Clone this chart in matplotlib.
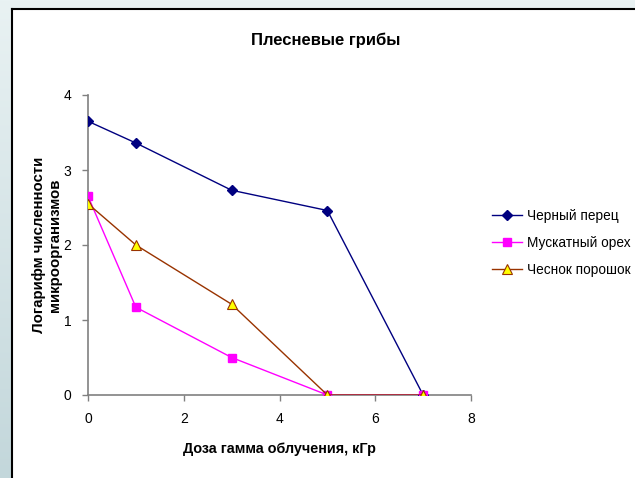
import numpy as np
import matplotlib
matplotlib.use('Agg')
import matplotlib.pyplot as plt
from matplotlib.patches import Rectangle

plt.rcParams['font.family'] = ['Liberation Sans', 'DejaVu Sans']

# Доза облучения, кГр
dose = [0, 1, 3, 5, 7]

# Логарифм численности микроорганизмов
black_pepper = [3.65, 3.36, 2.73, 2.46, 0.0]
nutmeg = [2.65, 1.17, 0.50, 0.0, 0.0]
garlic = [2.55, 2.00, 1.21, 0.0, 0.0]

series_names = ['Черный перец', 'Мускатный орех', 'Чеснок порошок']
x_ticks = [0, 2, 4, 6, 8]
y_ticks = [0, 1, 2, 3, 4]

W, H = 635, 478
fig = plt.figure(figsize=(W / 100, H / 100), dpi=100)

# slide-like background: bluish gradient behind a white framed panel
bg = fig.add_axes([0, 0, 1, 1])
grad = np.linspace(0, 1, 256).reshape(-1, 1)
bg_cmap = matplotlib.colors.LinearSegmentedColormap.from_list(
    'bg', ['#e9f2f3', '#c3d7db'])
bg.imshow(grad, aspect='auto', cmap=bg_cmap, extent=[0, 1, 0, 1], origin='upper')
bg.add_patch(Rectangle((12 / W, 0), 1 - 12 / W, 1 - 9 / H,
                       facecolor='white', edgecolor='none'))
bg.plot([12 / W, 12 / W], [0, 1 - 9 / H], color='black', lw=1.5)
bg.plot([12 / W, 1], [1 - 9 / H, 1 - 9 / H], color='black', lw=1.5)
bg.set_xlim(0, 1)
bg.set_ylim(0, 1)
bg.axis('off')

ax = fig.add_axes([88 / W, 1 - 395 / H, (471 - 88) / W, (395 - 95) / H])
ax.patch.set_alpha(0)

ax.plot(dose, black_pepper, color='#000080', lw=1, marker='D', ms=5.5,
        mfc='#000080', mec='#000080', label=series_names[0], zorder=3)
ax.plot(dose, nutmeg, color='#ff00ff', lw=1, marker='s', ms=6,
        mfc='#ff00ff', mec='#ff00ff', label=series_names[1], zorder=4)
ax.plot(dose, garlic, color='#993300', lw=1, marker='^', ms=6.5,
        mfc='#ffff00', mec='#993300', mew=0.8, label=series_names[2], zorder=5)

ax.set_xlim(0, 8)
ax.set_ylim(0, 4)
ax.set_xticks(x_ticks)
ax.set_yticks(y_ticks)
for s in ['top', 'right']:
    ax.spines[s].set_visible(False)
for s in ['left', 'bottom']:
    ax.spines[s].set_color('#808080')
    ax.spines[s].set_linewidth(1.2)
ax.tick_params(direction='out', length=4, width=1, color='#808080',
               labelsize=10, pad=8)

ax.set_xlabel('Доза гамма облучения, кГр', fontsize=10.4, fontweight='bold',
              labelpad=12)
ax.set_ylabel('Логарифм численности\nмикроорганизмов', fontsize=10.8,
              fontweight='bold', ha='center', va='center')
ax.yaxis.set_label_coords(-0.108, 0.5)

fig.text(326 / W, 1 - 45 / H, 'Плесневые грибы', fontsize=12,
         fontweight='bold', ha='center', va='baseline')

ax.legend(loc='center left', bbox_to_anchor=(492 / W, 1 - 243 / H),
          bbox_transform=fig.transFigure, frameon=False, fontsize=9.8,
          handlelength=2.2, handletextpad=0.4, labelspacing=0.95,
          borderaxespad=0, borderpad=0)

fig.savefig('out.png', dpi=100)
